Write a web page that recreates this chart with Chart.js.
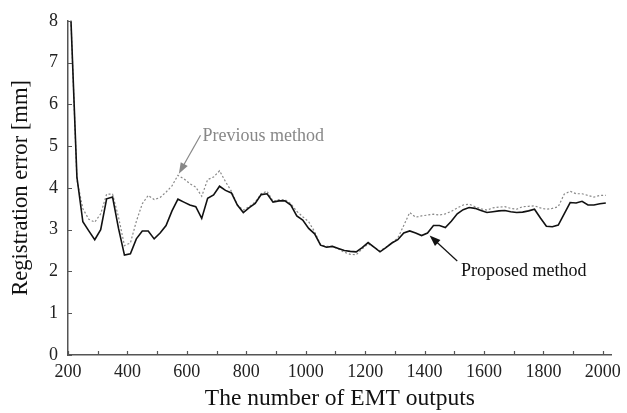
<!DOCTYPE html>
<html lang="en">
<head>
    <title>Registration error vs EMT outputs</title>
    <script src="https://cdn.jsdelivr.net/npm/chart.js"></script>
    <style>
        body {
            margin: 0;
            padding: 0;
            background: white;
        }
        .chart-container {
            position: relative;
            width: 627px;
            height: 413px;
        }
    </style>
</head>
<body>
    <div class="chart-container">
        <canvas id="errorChart" width="627" height="413"></canvas>
    </div>

    <script>
        // number of EMT outputs (every 20 from 210 to 2010)
        const emtOutputs = [
            210, 230, 250, 270, 290, 310, 330, 350, 370, 390,
            410, 430, 450, 470, 490, 510, 530, 550, 570, 590,
            610, 630, 650, 670, 690, 710, 730, 750, 770, 790,
            810, 830, 850, 870, 890, 910, 930, 950, 970, 990,
            1010, 1030, 1050, 1070, 1090, 1110, 1130, 1150, 1170, 1190,
            1210, 1230, 1250, 1270, 1290, 1310, 1330, 1350, 1370, 1390,
            1410, 1430, 1450, 1470, 1490, 1510, 1530, 1550, 1570, 1590,
            1610, 1630, 1650, 1670, 1690, 1710, 1730, 1750, 1770, 1790,
            1810, 1830, 1850, 1870, 1890, 1910, 1930, 1950, 1970, 1990,
            2010
        ];

        const proposedError = [
            8.00, 4.26, 3.19, 2.97, 2.76, 3.00, 3.74, 3.78, 3.03, 2.39,
            2.42, 2.78, 2.97, 2.97, 2.78, 2.92, 3.10, 3.45, 3.73, 3.66,
            3.59, 3.55, 3.27, 3.75, 3.83, 4.04, 3.94, 3.88, 3.59, 3.41,
            3.53, 3.63, 3.84, 3.86, 3.66, 3.69, 3.69, 3.59, 3.33, 3.23,
            3.03, 2.90, 2.63, 2.58, 2.60, 2.55, 2.50, 2.48, 2.47, 2.57,
            2.69, 2.58, 2.47, 2.57, 2.68, 2.76, 2.92, 2.97, 2.92, 2.86,
            2.92, 3.10, 3.10, 3.05, 3.20, 3.38, 3.48, 3.53, 3.51, 3.46,
            3.41, 3.43, 3.45, 3.46, 3.43, 3.41, 3.42, 3.45, 3.49, 3.28,
            3.08, 3.07, 3.11, 3.38, 3.65, 3.64, 3.68, 3.59, 3.59, 3.62,
            3.64
        ];

        const previousError = [
            8.00, 4.20, 3.50, 3.25, 3.18, 3.38, 3.85, 3.85, 3.30, 2.62,
            2.68, 3.20, 3.62, 3.82, 3.72, 3.77, 3.90, 4.05, 4.30, 4.22,
            4.10, 4.02, 3.80, 4.20, 4.26, 4.41, 4.15, 3.92, 3.59, 3.47,
            3.55, 3.66, 3.86, 3.92, 3.68, 3.72, 3.72, 3.62, 3.44, 3.31,
            3.19, 2.95, 2.64, 2.60, 2.60, 2.54, 2.46, 2.41, 2.40, 2.54,
            2.66, 2.58, 2.49, 2.58, 2.68, 2.80, 3.10, 3.41, 3.30, 3.33,
            3.35, 3.37, 3.35, 3.38, 3.44, 3.52, 3.59, 3.61, 3.55, 3.50,
            3.47, 3.52, 3.54, 3.55, 3.51, 3.49, 3.55, 3.56, 3.57, 3.52,
            3.49, 3.51, 3.55, 3.85, 3.92, 3.86, 3.86, 3.82, 3.78, 3.82,
            3.82
        ];

        const serif = "'Liberation Serif', 'Times New Roman', serif";

        // small inward tick marks on both axes
        const inwardTicks = {
            id: 'inwardTicks',
            afterDraw(chart) {
                const ctx = chart.ctx;
                const area = chart.chartArea;
                const x = chart.scales.x;
                const y = chart.scales.y;
                ctx.save();
                ctx.strokeStyle = '#555';
                ctx.lineWidth = 1.2;
                ctx.beginPath();
                x.ticks.forEach(t => {
                    const px = Math.round(x.getPixelForValue(t.value)) + 0.5;
                    ctx.moveTo(px, area.bottom);
                    ctx.lineTo(px, area.bottom - 4);
                });
                y.ticks.forEach(t => {
                    const py = Math.round(y.getPixelForValue(t.value)) + 0.5;
                    ctx.moveTo(area.left, py);
                    ctx.lineTo(area.left + 4, py);
                });
                ctx.stroke();
                ctx.restore();
            }
        };

        // arrow labels pointing at the two curves
        function drawArrow(ctx, x0, y0, x1, y1, color) {
            const ang = Math.atan2(y1 - y0, x1 - x0);
            const len = 11, half = 4;
            ctx.strokeStyle = color;
            ctx.fillStyle = color;
            ctx.lineWidth = 1.2;
            ctx.beginPath();
            ctx.moveTo(x0, y0);
            ctx.lineTo(x1 - Math.cos(ang) * len * 0.8, y1 - Math.sin(ang) * len * 0.8);
            ctx.stroke();
            ctx.beginPath();
            ctx.moveTo(x1, y1);
            ctx.lineTo(x1 - Math.cos(ang) * len - Math.sin(ang) * half, y1 - Math.sin(ang) * len + Math.cos(ang) * half);
            ctx.lineTo(x1 - Math.cos(ang) * len + Math.sin(ang) * half, y1 - Math.sin(ang) * len - Math.cos(ang) * half);
            ctx.closePath();
            ctx.fill();
        }

        const arrowLabels = {
            id: 'arrowLabels',
            afterDatasetsDraw(chart) {
                const ctx = chart.ctx;
                const x = chart.scales.x;
                const y = chart.scales.y;
                ctx.save();
                ctx.font = '18px ' + serif;
                ctx.textBaseline = 'middle';
                ctx.textAlign = 'left';

                ctx.fillStyle = '#888';
                ctx.fillText('Previous method', x.getPixelForValue(653), y.getPixelForValue(5.23));
                drawArrow(ctx, x.getPixelForValue(646), y.getPixelForValue(5.26),
                    x.getPixelForValue(573), y.getPixelForValue(4.34), '#888');

                ctx.fillStyle = '#111';
                ctx.fillText('Proposed method', x.getPixelForValue(1523), y.getPixelForValue(2.0));
                drawArrow(ctx, x.getPixelForValue(1510), y.getPixelForValue(2.25),
                    x.getPixelForValue(1417), y.getPixelForValue(2.86), '#111');
                ctx.restore();
            }
        };

        new Chart(document.getElementById('errorChart'), {
            type: 'line',
            data: {
                labels: emtOutputs,
                datasets: [{
                    label: 'Proposed method',
                    data: emtOutputs.map((v, i) => ({ x: v, y: proposedError[i] })),
                    borderColor: '#111',
                    borderWidth: 1.6,
                    pointRadius: 0,
                    tension: 0,
                    clip: false
                }, {
                    label: 'Previous method',
                    data: emtOutputs.map((v, i) => ({ x: v, y: previousError[i] })),
                    borderColor: '#888',
                    borderWidth: 1.2,
                    borderDash: [2, 2],
                    pointRadius: 0,
                    tension: 0,
                    clip: false
                }]
            },
            options: {
                responsive: false,
                animation: false,
                layout: {
                    padding: { left: 0, right: 10, top: 17, bottom: 0 }
                },
                plugins: {
                    legend: { display: false },
                    tooltip: { enabled: false }
                },
                scales: {
                    x: {
                        type: 'linear',
                        min: 200,
                        max: 2030,
                        afterFit: s => { s.height = 58; },
                        grid: { display: false, drawTicks: false },
                        border: { display: true, color: '#555', width: 1.5 },
                        ticks: {
                            stepSize: 100,
                            includeBounds: false,
                            maxRotation: 0,
                            autoSkip: false,
                            padding: 6,
                            color: '#222',
                            font: { family: serif, size: 18 },
                            callback: v => (v % 200 === 0 ? v : '')
                        },
                        title: {
                            display: true,
                            text: 'The number of EMT outputs',
                            color: '#111',
                            font: { family: serif, size: 23.5 },
                            padding: { top: 0, bottom: 0 }
                        }
                    },
                    y: {
                        min: 0,
                        max: 8,
                        afterFit: s => { s.width = 68; },
                        grid: { display: false, drawTicks: false },
                        border: { display: true, color: '#555', width: 1.5 },
                        ticks: {
                            stepSize: 1,
                            padding: 10,
                            color: '#222',
                            font: { family: serif, size: 18 }
                        },
                        title: {
                            display: true,
                            text: 'Registration error [mm]',
                            color: '#111',
                            font: { family: serif, size: 22.6 },
                            padding: { top: 8, bottom: 0 }
                        }
                    }
                }
            },
            plugins: [inwardTicks, arrowLabels]
        });
    </script>
</body>
</html>
